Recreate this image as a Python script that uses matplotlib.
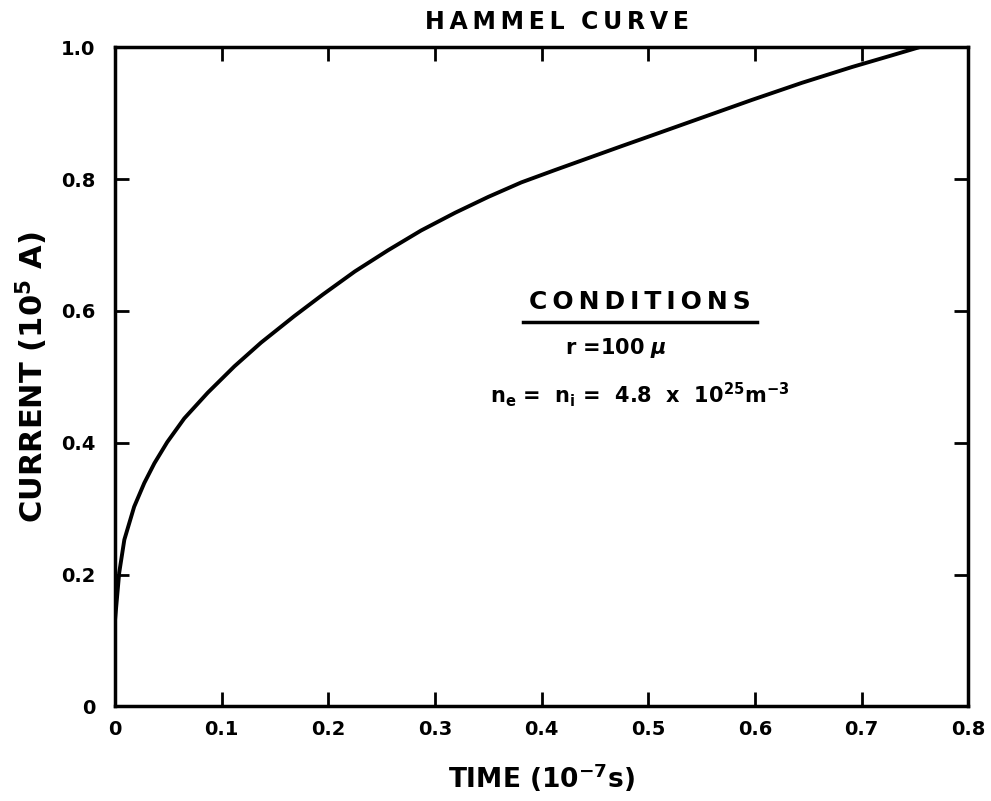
import matplotlib
matplotlib.use("Agg")
import matplotlib.pyplot as plt

time = [0, 0.004, 0.0088, 0.018, 0.0275, 0.037, 0.049, 0.065, 0.087, 0.112,
        0.137, 0.168, 0.195, 0.225, 0.256, 0.287, 0.319, 0.350, 0.381, 0.413,
        0.444, 0.475, 0.503, 0.550, 0.597, 0.644, 0.691, 0.729, 0.754]
current = [0.13, 0.203, 0.253, 0.303, 0.339, 0.369, 0.401, 0.437, 0.476, 0.516,
           0.552, 0.592, 0.625, 0.660, 0.692, 0.722, 0.749, 0.773, 0.795, 0.814,
           0.832, 0.850, 0.866, 0.893, 0.920, 0.946, 0.970, 0.988, 1.0]

xticks = [0, 0.1, 0.2, 0.3, 0.4, 0.5, 0.6, 0.7, 0.8]
xlabels = ["0", "0.1", "0.2", "0.3", "0.4", "0.5", "0.6", "0.7", "0.8"]
yticks = [0, 0.2, 0.4, 0.6, 0.8, 1.0]
ylabels = ["0", "0.2", "0.4", "0.6", "0.8", "1.0"]

plt.rcParams["font.family"] = ["DejaVu Sans"]
plt.rcParams["font.weight"] = "bold"


def spaced(s):
    # the old lettering is widely tracked; thin spaces between letters
    return "\u2009".join(s)


fig = plt.figure(figsize=(9.91, 8.01), dpi=100)
ax = fig.add_axes([0.116, 0.118, 0.861, 0.823])

ax.plot(time, current, color="black", lw=2.8, solid_capstyle="round",
        solid_joinstyle="round")

ax.set_xlim(0, 0.8)
ax.set_ylim(0, 1.0)
ax.set_xticks(xticks, xlabels)
ax.set_yticks(yticks, ylabels)
ax.tick_params(direction="in", length=10, width=2, labelsize=14,
               top=True, right=True)
ax.tick_params(axis="x", pad=10)
ax.tick_params(axis="y", pad=14)
for lab in ax.get_xticklabels() + ax.get_yticklabels():
    lab.set_fontweight("heavy")
for sp in ax.spines.values():
    sp.set_linewidth(2.5)

ax.set_title(spaced("HAMMEL") + "  " + spaced("CURVE"), fontsize=17,
             fontweight="heavy", pad=13, x=0.518)
ax.set_xlabel("TIME (10$^{\\mathbf{-7}}$s)", fontsize=19, fontweight="heavy", labelpad=16)
ax.set_ylabel("CURRENT (10$^{\\mathbf{5}}$ A)", fontsize=22, fontweight="heavy", labelpad=8)

# conditions block
ax.text(0.492, 0.614, spaced("CONDITIONS"), fontsize=18, fontweight="heavy",
        ha="center", va="center")
ax.plot([0.383, 0.602], [0.583, 0.583], color="black", lw=2.5)
ax.text(0.47, 0.544, "r =100 $\\mu$", fontsize=15, fontweight="heavy",
        ha="center", va="center")
ax.text(0.492, 0.473,
        "n$_{\\mathbf{e}}$ =  n$_{\\mathbf{i}}$ =  4.8  x  10$^{\\mathbf{25}}$m$^{\\mathbf{-3}}$",
        fontsize=15, fontweight="heavy", ha="center", va="center")

fig.savefig("out.png", dpi=100)
